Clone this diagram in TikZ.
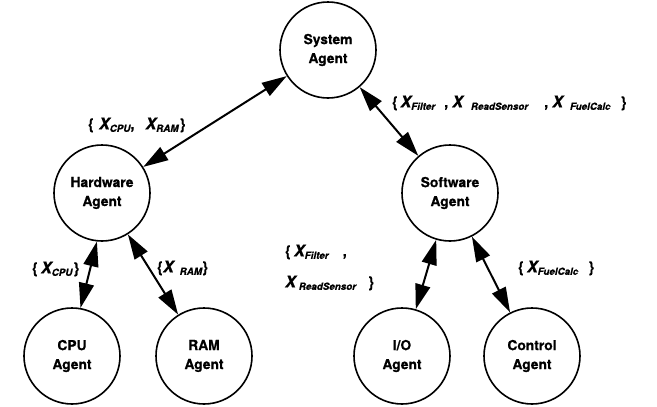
\documentclass[tikz,border=0pt]{standalone}
\usepackage{fontspec}
\setmainfont{TeX Gyre Heros}
\newfontfamily\heavyfont[FakeBold=0.6]{TeX Gyre Heros}
\usetikzlibrary{arrows.meta}

% a bold italic X with a small bold italic subscript
\newcommand{\xvar}[1]{{\fontsize{16}{16}\selectfont\bfseries\itshape X}%
  \raisebox{-2.5pt}{\fontsize{9.8}{9.8}\selectfont\bfseries\itshape #1}}

\tikzset{
  agent/.style={circle, draw, line width=1.6pt, minimum size=96pt, inner sep=0pt,
    align=center, font=\heavyfont\fontsize{13.8}{19}\selectfont\bfseries},
  link/.style={line width=2pt,
    {Triangle[length=25pt,width=15pt]}-{Triangle[length=25pt,width=15pt]}},
  lab/.style={inner sep=0pt, anchor=west, font=\heavyfont\fontsize{15}{15}\selectfont\bfseries}
}

\begin{document}
\begin{tikzpicture}[x=1pt,y=-1pt]
\useasboundingbox (0,0) rectangle (657,407);

\node[agent] (sys)  at (328,50)  {System\\Agent};
\node[agent] (hw)   at (102,193) {Hardware\\Agent};
\node[agent] (sw)   at (450,193) {Software\\Agent};
\node[agent] (cpu)  at (72,356)  {CPU\\Agent};
\node[agent] (ram)  at (204,356) {RAM\\Agent};
\node[agent] (io)   at (402,356) {I/O\\Agent};
\node[agent] (ctl)  at (532,356) {Control\\Agent};

\draw[link] (sys) -- (hw);
\draw[link] (sys) -- (sw);
\draw[link] (hw.-96) -- (cpu.80);
\draw[link] (hw) -- (ram);
\draw[link] (sw) -- (io);
\draw[link] (sw) -- (ctl);

\node[lab] (l1) at (88,125) {\{\hspace{5pt}\xvar{CPU},\hspace{11pt}\xvar{RAM}\hspace{1pt}\}};
\node[lab] (l2) at (392,103) {\{\,\xvar{Filter}\hspace{9pt},\hspace{4pt}\xvar{\hspace{8pt}ReadSensor}\hspace{16pt},\hspace{4pt}\xvar{\hspace{7pt}FuelCalc}\hspace{10pt}\}};
\node[lab] (l3) at (32,269) {\{\hspace{3pt}\xvar{CPU}\hspace{1pt}\}};
\node[lab] (l4) at (157,268) {\{\xvar{\hspace{6pt}RAM}\}};
\node[lab] (l5) at (285,252) {\{\hspace{3pt}\xvar{Filter}\hspace{14pt},};
\node[lab] (l6) at (285,283) {\xvar{\hspace{3pt}ReadSensor}\hspace{12pt}\}};
\node[lab] (l7) at (518,268) {\{\hspace{3pt}\xvar{FuelCalc}\hspace{10pt}\}};
\end{tikzpicture}
\end{document}
